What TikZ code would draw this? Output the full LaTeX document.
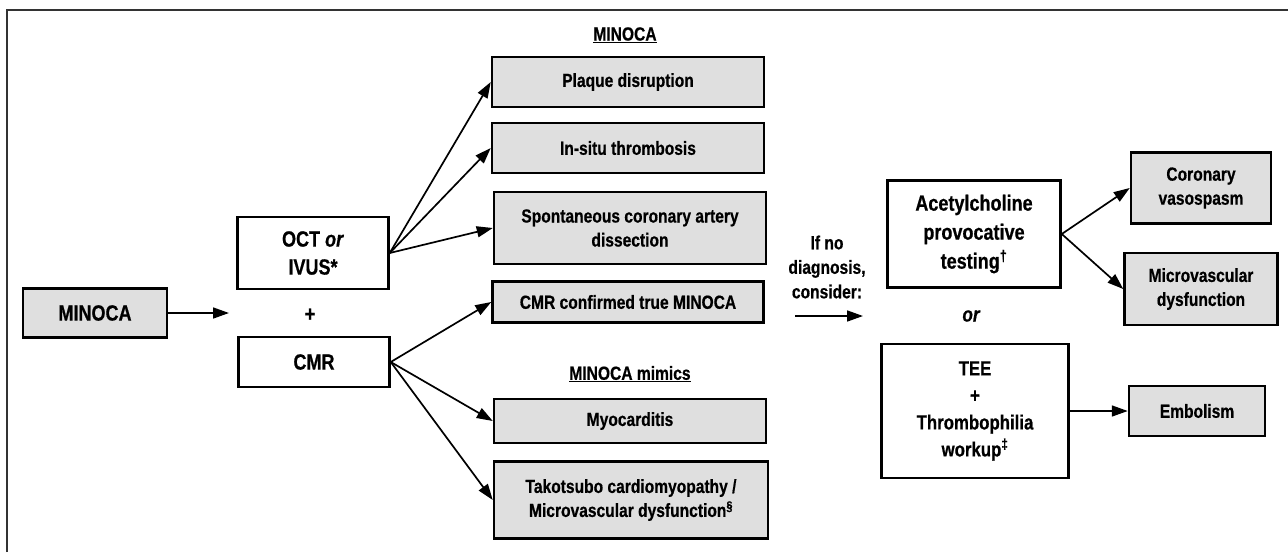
\documentclass[tikz,border=0pt]{standalone}
\usepackage{fontspec}
\setmainfont{Liberation Sans}[FakeStretch=0.82,BoldFeatures={FakeBold=0.6},BoldItalicFeatures={FakeBold=0.6}]
\usetikzlibrary{arrows.meta}
\tikzset{
  box/.style={draw,line width=2.5pt,inner sep=0pt,align=center,font=\bfseries\fontsize{19}{24}\selectfont},
  greybox/.style={box,fill=gray!25},
  lbl/.style={inner sep=0pt,align=center,font=\bfseries\fontsize{19}{24.5}\selectfont},
  arr/.style={line width=1.7pt,-{Triangle[length=16pt,width=11pt]}}
}
\begin{document}
\begin{tikzpicture}[x=1pt,y=-1pt]
\useasboundingbox (0,0) rectangle (1288,552);
\draw[line width=1.6pt,black!80] (7,552)--(7,10)--(1288,10);
% left column
\node[greybox,minimum width=144,minimum height=49,font=\bfseries\fontsize{22}{28}\selectfont] (minoca) at (95,313) {MINOCA};
\node[box,minimum width=151,minimum height=72,font=\bfseries\fontsize{22}{28}\selectfont] (oct) at (313,253) {OCT \textit{or}\\IVUS*};
\node[lbl,font=\bfseries\fontsize{22}{28}\selectfont] (plus) at (310,315) {+};
\node[box,minimum width=151,minimum height=50,font=\bfseries\fontsize{22}{28}\selectfont] (cmr) at (314,362) {CMR};
\coordinate (minend) at (229,313);
\draw[arr] (minoca.east)--(minend);
% middle column
\node[lbl] (hdr1) at (625,35) {\underline{MINOCA}};
\node[greybox,minimum width=272,minimum height=50] (plaque) at (628,82) {Plaque disruption};
\node[greybox,minimum width=272,minimum height=50] (insitu) at (628,148) {In-situ thrombosis};
\node[greybox,minimum width=272,minimum height=72] (scad) at (630,228) {Spontaneous coronary artery\\dissection};
\node[greybox,minimum width=271,minimum height=41] (truemin) at (628,302) {CMR confirmed true MINOCA};
\node[lbl] (hdr2) at (630,374) {\underline{MINOCA mimics}};
\node[greybox,minimum width=272,minimum height=44] (myo) at (630,421) {Myocarditis};
\node[greybox,minimum width=274,minimum height=77] (tako) at (631,500) {Takotsubo cardiomyopathy /\\Microvascular dysfunction\textsuperscript{§}};
\foreach \t in {plaque,insitu,scad} \draw[arr] (oct.east)--(\t.west);
\foreach \t in {truemin,myo,tako} \draw[arr] (cmr.east)--(\t.west);
% right part
\node[lbl] (ifno) at (827,267) {If no\\diagnosis,\\consider:};
\coordinate (c1) at (795,316);
\coordinate (c2) at (863,316);
\draw[arr] (c1)--(c2);
\node[box,minimum width=173,minimum height=107,font=\bfseries\fontsize{22}{29}\selectfont] (ach) at (974,234) {Acetylcholine\\provocative\\testing\textsuperscript{†}};
\node[lbl,font=\bfseries\itshape\fontsize{21}{26}\selectfont] (or) at (971,316) {or};
\node[box,minimum width=187,minimum height=134,font=\bfseries\fontsize{20.5}{27}\selectfont] (tee) at (975,411) {TEE\\+\\Thrombophilia\\workup\textsuperscript{‡}};
\node[greybox,minimum width=140,minimum height=71] (vaso) at (1201,188) {Coronary\\vasospasm};
\node[greybox,minimum width=153,minimum height=72] (micro) at (1201,289) {Microvascular\\dysfunction};
\node[greybox,minimum width=136,minimum height=50] (emb) at (1197,411) {Embolism};
\draw[arr] (ach.east)--(vaso.west);
\draw[arr] (ach.east)--(micro.west);
\draw[arr] (tee.east)--(emb.west);
\end{tikzpicture}
\end{document}
